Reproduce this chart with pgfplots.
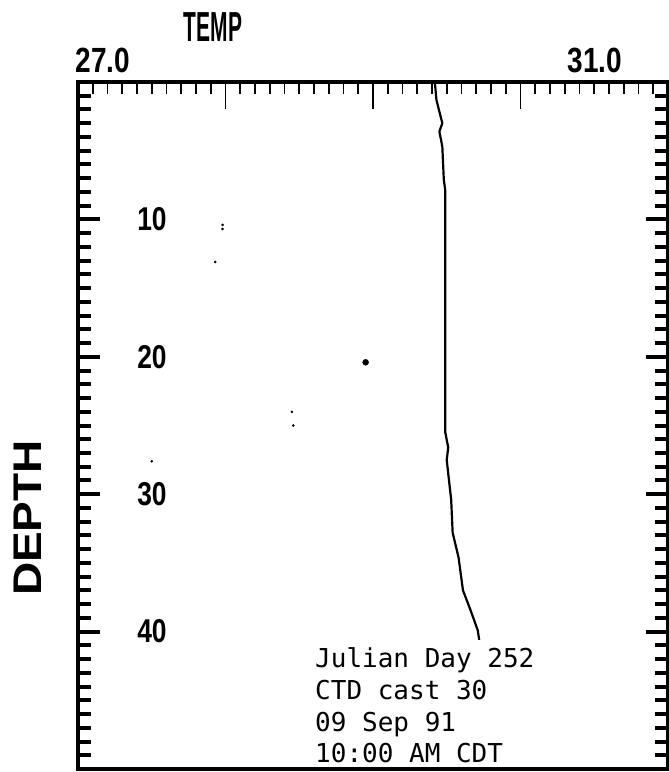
\documentclass[border=0pt]{standalone}
\usepackage{fontspec}
\usepackage{pgfplots}
\pgfplotsset{compat=1.18}
\setmainfont{Liberation Sans}
\newfontfamily\monofont{DejaVu Sans Mono}
\newfontfamily\condA{Liberation Sans}[FakeStretch=0.5]
\newfontfamily\condB{Liberation Sans}[FakeStretch=0.8]
\newfontfamily\wideF{Liberation Sans}[FakeStretch=1.15]

\pgfplotstableread{
T d
29.42 0.1
29.43 1.3
29.47 3.0
29.45 3.6
29.47 4.7
29.48 7.1
29.49 7.9
29.49 12
29.49 20
29.49 25.5
29.51 26.6
29.50 27.5
29.51 28.5
29.53 30.4
29.54 32.8
29.58 34.6
29.61 37.0
29.66 38.4
29.71 39.9
29.72 40.6
}\profile

\begin{document}
\begin{tikzpicture}[x=1pt,y=1pt]
\useasboundingbox (0,0) rectangle (669,772);
% axis 1: box, top ticks, data
\begin{axis}[
  at={(78pt,3pt)}, anchor=south west,
  scale only axis, width=590pt, height=687pt,
  xmin=27, xmax=31, ymin=0, ymax=50, y dir=reverse,
  xtick={27,28,29,30,31}, minor x tick num=9,
  xtick pos=right, xticklabels={},
  ytick=\empty,
  tick align=inside,
  major tick length=27pt, minor tick length=12pt,
  every tick/.style={line width=1.8pt, black},
  axis line style={line width=3.5pt},
  clip=false,
]
\addplot[black, line width=2.2pt, line join=round] table[x=T,y=d] {\profile};
\addplot[only marks, mark=*, mark size=3pt, black] coordinates {(28.95,20.4)};
\addplot[only marks, mark=*, mark size=1.1pt, black] coordinates {(27.98,10.4) (27.98,10.7) (27.93,13.1) (28.45,24.0) (28.46,25.0) (27.50,27.6)};
\end{axis}
% axis 2: left/right ticks and depth labels
\begin{axis}[
  at={(78pt,3pt)}, anchor=south west,
  scale only axis, width=590pt, height=687pt,
  xmin=27, xmax=31, ymin=0, ymax=50, y dir=reverse,
  xtick=\empty,
  ytick={0,10,20,30,40,50}, minor y tick num=9, ytick pos=both,
  yticklabels={,10,20,30,40,},
  yticklabel style={anchor=center, xshift=74pt, font=\condB\bfseries\fontsize{33}{33}\selectfont},
  tick align=inside,
  major tick length=22pt, minor tick length=13pt,
  every tick/.style={line width=4pt, black},
  axis line style={draw=none},
]
\end{axis}
\node[inner sep=0, font=\condA\bfseries\fontsize{42}{42}\selectfont] at (213,745) {TEMP};
\node[inner sep=0, font=\condB\bfseries\fontsize{35}{35}\selectfont] at (103,712) {27.0};
\node[inner sep=0, font=\condB\bfseries\fontsize{35}{35}\selectfont] at (595,712) {31.0};
\node[inner sep=0, rotate=90, font=\wideF\bfseries\fontsize{40}{40}\selectfont] at (28,254) {DEPTH};
\begin{scope}[every node/.style={anchor=base west, inner sep=0, font=\monofont\fontsize{26}{31}\selectfont}]
\node at (315,104) {Julian Day 252};
\node at (315,72.5) {CTD cast 30};
\node at (315,41) {09 Sep 91};
\node at (315,9.5) {10:00 AM CDT};
\end{scope}
\end{tikzpicture}
\end{document}
